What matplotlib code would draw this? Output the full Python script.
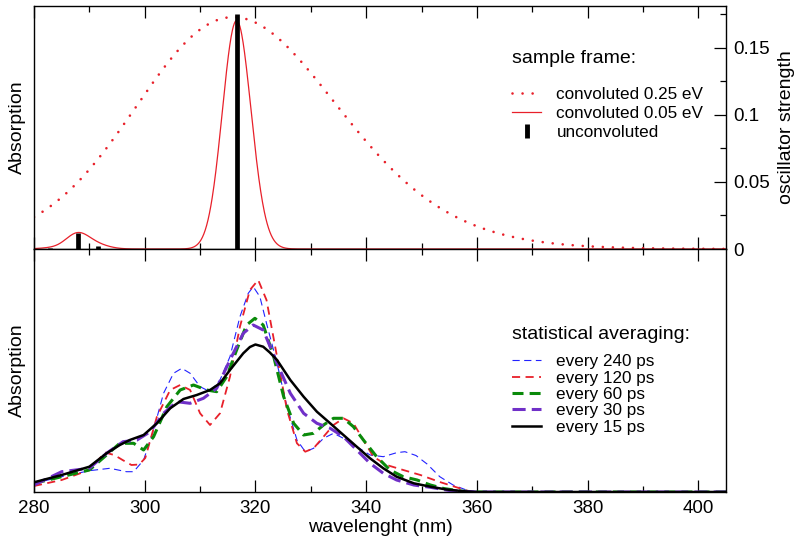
import numpy as np
import matplotlib
matplotlib.use("Agg")
import matplotlib.pyplot as plt
from matplotlib.lines import Line2D
from matplotlib.ticker import MultipleLocator, FuncFormatter

plt.rcParams['font.family'] = ['Liberation Sans', 'DejaVu Sans']

# ---------------- data ----------------
HC = 1239.84  # eV*nm

# stick spectrum (sample frame)
stick_wl = np.array([282.9, 287.9, 291.6, 316.6])
stick_f = np.array([0.0008, 0.012, 0.0025, 0.175])

# broadening widths (eV) and read peak heights
sigma_wide = 0.22
sigma_narrow = 0.032
peak_wide = 0.173
peak_narrow = 0.1705

# statistical averaging spectra (arbitrary units)
blue_wl = [280, 285, 290, 293.7, 296.7, 298.0, 299.8, 301.6, 303.4, 305.2, 306.7, 308.2, 310.0,
           311.8, 313.6, 315.4, 317.2, 318.7, 319.6, 320.8, 322.0, 323.9, 325.7, 327.5, 329.0,
           330.5, 332.3, 334.1, 335.9, 338.3, 340.7, 343.1, 345.5, 347.0, 349.0, 351.0, 353.3,
           355.7, 358.1, 360, 405]
blue_v = [8.7, 15.3, 21.3, 23.7, 20.3, 20.3, 32, 62, 98.7, 118.7, 123.7, 118.7, 105.3,
          100.3, 112, 135.3, 175.3, 198.7, 205.3, 195.3, 168.7, 128.7, 85.3, 52, 40.3,
          43.7, 53.7, 58.7, 53.7, 45.3, 37, 35.3, 39.3, 40.3, 36.5, 28, 15.3,
          7, 2, 0, 0]

red_wl = [280, 285, 290, 292.8, 294.5, 296.0, 297.6, 299.0, 300.1, 302.2, 304.6, 306.4, 308.2,
          310.0, 311.8, 313.6, 315.4, 317.2, 319.0, 320.5, 322.0, 323.9, 325.7, 327.5, 329.0,
          330.5, 332.3, 334.1, 335.9, 337.7, 339.5, 341.3, 343.7, 346.7, 349.8, 353.3, 356.9,
          359, 405]
red_v = [6, 12, 22, 39.5, 37, 32, 27, 27.5, 34, 75.3, 102, 107, 102,
         78.7, 67, 78.7, 115.3, 165.3, 202, 212, 192, 135.3, 82, 48.7, 40.3,
         43.7, 55.3, 67, 73.7, 68.7, 52, 35.3, 27, 22, 17, 10, 3.7,
         0, 0]

green_wl = [280, 285, 290, 293.1, 295.5, 298.0, 299.8, 301.6, 304.0, 306.4, 308.8, 311.2, 313.0,
            314.8, 316.6, 318.4, 319.9, 321.4, 323.3, 325.1, 326.9, 328.7, 330.5, 332.3, 334.1,
            335.9, 337.7, 339.5, 341.9, 344.3, 346.7, 349.2, 351.6, 354, 357, 360, 405]
green_v = [8.7, 15.3, 22, 37, 48.7, 48.7, 42, 55.3, 85.3, 102, 107, 102, 100.3,
           115.3, 142, 167, 173.7, 167, 135.3, 95.3, 68.7, 57, 58.7, 67, 73.7,
           73.7, 65.3, 52, 35.3, 22, 15.3, 12, 7, 3.5, 1, 0, 0]

purple_wl = [280, 285, 290, 293.1, 296.1, 298.6, 301.0, 303.4, 305.8, 308.2, 310.6, 313.0, 315.4,
             317.8, 319.6, 321.4, 323.9, 326.3, 328.7, 331.1, 333.5, 335.9, 338.3, 340.7, 343.1,
             345.5, 348.6, 351.6, 355, 360, 405]
purple_v = [7, 20.3, 23.7, 38.7, 50.3, 52, 60.3, 78.7, 90.3, 88.7, 93.7, 103.7, 132,
            158.7, 167, 162, 128.7, 98.7, 78.7, 68.7, 63.7, 55.3, 42, 28.7, 18.7,
            12, 7, 4.7, 1.5, 0, 0]

black_wl = [280, 285, 290, 293.1, 295.5, 297.3, 299.8, 302.2, 304.6, 307.0, 309.4, 311.8, 313.6,
            315.4, 317.8, 319.0, 320.0, 321.4, 322.6, 323.9, 326.3, 328.7, 331.1, 333.5, 335.9,
            338.3, 340.7, 343.1, 345.5, 348.6, 351.6, 354.5, 357.5, 360, 405]
black_v = [9.7, 17, 25.3, 38.7, 47, 52, 57, 68.7, 83.7, 93, 97, 102, 108.7,
           122, 138.7, 145, 147.5, 145.3, 139.5, 132, 112, 95.3, 80.3, 68.7, 57,
           45.3, 33.7, 23.7, 15.3, 8.7, 5.3, 2.5, 0.8, 0, 0]

x_ticks_major = [280, 300, 320, 340, 360, 380, 400]
osc_ticks = [0, 0.05, 0.1, 0.15]

# ---------------- convolution of sticks ----------------
grid = np.linspace(280, 405, 1500)


def convolve(sigma, peak):
    E = HC / grid
    Ei = HC / stick_wl
    spec = (stick_f[None, :] * np.exp(-(E[:, None] - Ei[None, :]) ** 2 / (2 * sigma ** 2))).sum(axis=1)
    return spec * peak / spec.max()


conv_wide = convolve(sigma_wide, peak_wide)
conv_narrow = convolve(sigma_narrow, peak_narrow)

# ---------------- figure ----------------
fig = plt.figure(figsize=(8, 5.44), dpi=100)
L, W = 34 / 800, 692 / 800
H = 243 / 544
ax1 = fig.add_axes([L, (544 - 249) / 544, W, H])
ax2 = fig.add_axes([L, (544 - 492) / 544, W, H])

for ax in (ax1, ax2):
    ax.set_xlim(280, 405)
    ax.xaxis.set_major_locator(MultipleLocator(20))
    ax.xaxis.set_minor_locator(MultipleLocator(10))
    ax.tick_params(axis='x', which='both', direction='in', top=True, bottom=True)
    ax.tick_params(axis='x', which='major', length=8.5, width=0.9)
    ax.tick_params(axis='x', which='minor', length=4.3, width=0.9)
    for s in ax.spines.values():
        s.set_linewidth(1.0)

RED = '#e8202a'
dotted = (0, (0.01, 3.8))

# top panel
ax1.plot(grid, conv_wide, color=RED, lw=1.9, linestyle=dotted,
         dash_capstyle='round', label='convoluted 0.25 eV')
ax1.plot(grid, conv_narrow, color=RED, lw=0.9, label='convoluted 0.05 eV')
ax1.vlines(stick_wl, 0, stick_f, color='black', lw=3.4)
ax1.set_ylim(0, 0.1813)
ax1.tick_params(axis='x', labelbottom=False)
ax1.yaxis.tick_right()
ax1.yaxis.set_label_position('right')
ax1.set_yticks(osc_ticks)
ax1.yaxis.set_minor_locator(MultipleLocator(0.025))
ax1.yaxis.set_major_formatter(FuncFormatter(lambda v, p: '%g' % v))
ax1.tick_params(axis='y', which='both', direction='in', labelsize=13.5, pad=5)
ax1.tick_params(axis='y', which='major', length=8.5, width=0.9)
ax1.tick_params(axis='y', which='minor', length=4.3, width=0.9)
ax1.set_ylabel('oscillator strength', fontsize=14, labelpad=6)
ax1.text(-0.012, 0.5, 'Absorption', rotation=90, transform=ax1.transAxes,
         ha='right', va='center', fontsize=14)

handles1 = [Line2D([], [], color=RED, lw=1.9, linestyle=dotted, dash_capstyle='round'),
            Line2D([], [], color=RED, lw=0.9),
            Line2D([], [], color='black', marker='|', markersize=10, markeredgewidth=3.5, linestyle='None')]
ax1.text(0.6908, 0.786, 'sample frame:', transform=ax1.transAxes, fontsize=14,
         ha='left', va='center')
ax1.legend(handles1, ['convoluted 0.25 eV', 'convoluted 0.05 eV', 'unconvoluted'],
           loc='upper left', bbox_to_anchor=(0.6908, 0.668), frameon=False, fontsize=12.3,
           borderpad=0, borderaxespad=0, handlelength=1.7, handletextpad=0.9, labelspacing=0.25)

# bottom panel
ax2.plot(blue_wl, blue_v, color='#2222ff', lw=0.8, linestyle=(0, (6.5, 4)), label='every 240 ps')
ax2.plot(red_wl, red_v, color=RED, lw=1.3, linestyle=(0, (4.5, 3)), label='every 120 ps')
ax2.plot(green_wl, green_v, color='#0a8a0a', lw=2.2, linestyle=(0, (3.6, 2.0)), label='every 60 ps')
ax2.plot(purple_wl, purple_v, color='#7030c8', lw=2.2, linestyle=(0, (4.3, 2.0)), label='every 30 ps')
ax2.plot(black_wl, black_v, color='black', lw=1.8, label='every 15 ps')
ax2.set_ylim(0, 243)
ax2.set_yticks([])
ax2.set_xticks(x_ticks_major)
ax2.tick_params(axis='x', labelsize=13.5, pad=6)
ax2.set_xlabel('wavelenght (nm)', fontsize=14, labelpad=1)
ax2.text(-0.012, 0.5, 'Absorption', rotation=90, transform=ax2.transAxes,
         ha='right', va='center', fontsize=14)
ax2.text(0.6908, 0.648, 'statistical averaging:', transform=ax2.transAxes, fontsize=14,
         ha='left', va='center')
ax2.legend(loc='upper left', bbox_to_anchor=(0.6908, 0.566), frameon=False, fontsize=12.3,
           borderpad=0, borderaxespad=0, handlelength=1.7, handletextpad=0.9, labelspacing=0.075)

fig.savefig('out.png', dpi=100)
